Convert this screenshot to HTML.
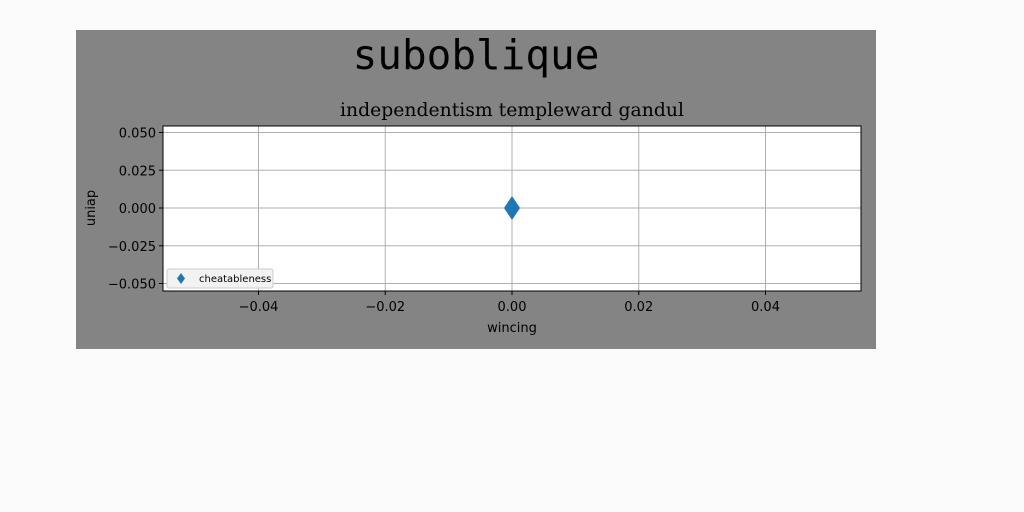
<!DOCTYPE html>
<html><head><meta charset="utf-8"><style>
body{margin:0;width:1024px;height:512px;background:#fbfbfb;overflow:hidden}
svg{display:block}
</style></head><body>
<svg id="c" width="1024" height="512" xmlns="http://www.w3.org/2000/svg">
<rect x="76" y="30" width="800" height="319" fill="#848484"/>
<text x="476" y="69" font-family="'DejaVu Sans Mono','Liberation Mono',monospace" font-size="41" text-anchor="middle" fill="#000">subobliquе</text>
<text x="512" y="116" font-family="'DejaVu Serif','Liberation Serif',serif" font-size="18.8" text-anchor="middle" fill="#000">independentism templeward gandul</text>
<rect x="163" y="126" width="698" height="165" fill="#fff"/>
<g id="grid"></g>
<g id="marks"></g>
<rect x="163" y="126" width="698" height="165" fill="none" stroke="#000" stroke-width="1"/>
<text x="512" y="332" font-family="'DejaVu Sans','Liberation Sans',sans-serif" font-size="13" text-anchor="middle">wincing</text>
<text transform="translate(95,208) rotate(-90)" font-family="'DejaVu Sans','Liberation Sans',sans-serif" font-size="13" text-anchor="middle">uniap</text>
<g>
<rect x="167" y="269" width="106" height="19" rx="2" fill="#f2f2f2" stroke="#ccc"/>
<path d="M181,273 L185,278.5 L181,284 L177,278.5 Z" fill="#1f77b4"/>
<text x="199" y="282" font-family="'DejaVu Sans','Liberation Sans',sans-serif" font-size="10">cheatableness</text>
</g>
</svg>
<script>
const xTicks=[-0.04,-0.02,0.00,0.02,0.04];
const yTicks=[0.050,0.025,0.000,-0.025,-0.050];
const xVals=[0.0];
const yVals=[0.0];
const X=v=>512+v*6337.5;
const Y=v=>208-v*1510;
const NS="http://www.w3.org/2000/svg";
const svg=document.getElementById('c'),grid=document.getElementById('grid'),marks=document.getElementById('marks');
function mk(tag,attrs,parent){const e=document.createElementNS(NS,tag);for(const k in attrs)e.setAttribute(k,attrs[k]);parent.appendChild(e);return e;}
const F="'DejaVu Sans','Liberation Sans',sans-serif";
xTicks.forEach(t=>{const x=X(t);
 const g=mk('line',{x1:x,x2:x,y1:126,y2:291,stroke:'#b0b0b0','stroke-width':1},grid);
 
 
 const tk=mk('line',{x1:x,x2:x,y1:291,y2:295,stroke:'#000'},svg);
 
 
 const l=mk('text',{x:x,y:311,'font-family':F,'font-size':13,'text-anchor':'middle'},svg);
 l.textContent=(t<0?'\u2212':'')+Math.abs(t).toFixed(2);
 
 
});
yTicks.forEach(t=>{const y=Y(t);
 const g=mk('line',{x1:163,x2:861,y1:y,y2:y,stroke:'#b0b0b0','stroke-width':1},grid);
 
 
 const tk=mk('line',{x1:159,x2:163,y1:y,y2:y,stroke:'#000'},svg);
 
 
 const l=mk('text',{x:156,y:y+5,'font-family':F,'font-size':13,'text-anchor':'end'},svg);
 l.textContent=(t<0?'\u2212':'')+Math.abs(t).toFixed(3);
 
 
});
xVals.forEach((v,i)=>{const x=X(v),y=Y(yVals[i]);
 const p=mk('path',{d:`M${x},${y-12} L${x+8},${y} L${x},${y+12} L${x-8},${y} Z`,fill:'#1f77b4'},marks);
 
 
});
</script>
</body></html>
